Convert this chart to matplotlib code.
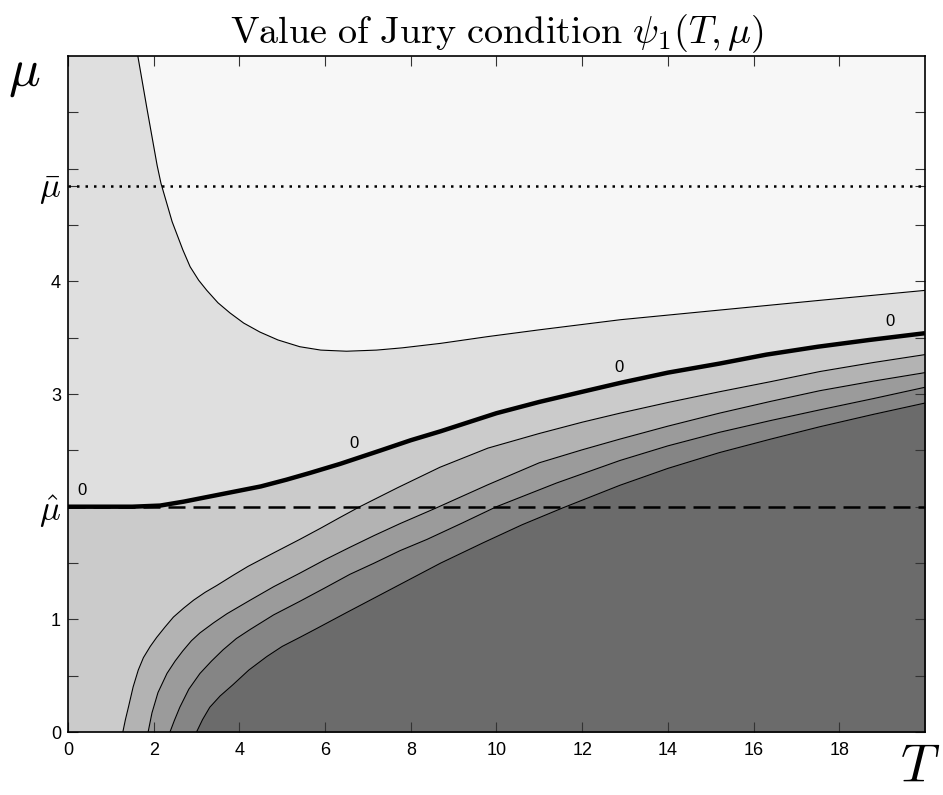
import numpy as np
import matplotlib
matplotlib.use("Agg")
import matplotlib.pyplot as plt

plt.rcParams.update({'font.family': 'Liberation Sans', 'mathtext.fontset': 'cm', 'font.size': 13})

# level curves of psi_1(T, mu)
upper_T = [1.63, 1.84, 2.08, 2.17, 2.43, 2.68, 2.85, 3.05, 3.24, 3.5, 3.78, 4.1, 4.48, 4.9, 5.41, 5.9,
           6.5, 7.2, 7.8, 8.7, 9.8, 11.0, 12.9, 15.2, 17.5, 20.0]
upper_mu = [6.0, 5.54, 5.03, 4.87, 4.53, 4.28, 4.13, 4.01, 3.92, 3.81, 3.72, 3.63, 3.55, 3.48, 3.42, 3.39,
            3.38, 3.39, 3.41, 3.45, 3.51, 3.57, 3.66, 3.745, 3.83, 3.92]

zero_T = [0.0, 1.0, 1.5, 2.15, 2.7, 3.3, 3.9, 4.5, 5.1, 5.65, 6.35, 7.3, 8.0, 8.7, 9.35, 10.0, 11.0, 12.0,
          12.9, 14.0, 15.2, 16.3, 17.5, 18.7, 20.0]
zero_mu = [2.0, 2.0, 2.0, 2.01, 2.045, 2.09, 2.135, 2.18, 2.24, 2.30, 2.38, 2.50, 2.59, 2.67, 2.75, 2.83, 2.93, 3.02,
           3.10, 3.19, 3.27, 3.35, 3.42, 3.48, 3.54]

l1_T = [1.28, 1.34, 1.41, 1.52, 1.64, 1.76, 1.92, 2.07, 2.26, 2.46, 2.7, 2.93, 3.2, 3.47, 3.85, 4.2, 4.8,
        5.41, 5.9, 6.35, 6.81, 7.7, 8.68, 9.8, 11.0, 12.0, 12.88, 14.0, 15.2, 16.4, 17.55, 18.8, 20.0]
l1_mu = [0.0, 0.11, 0.22, 0.40, 0.55, 0.66, 0.76, 0.84, 0.93, 1.02, 1.10, 1.17, 1.24, 1.30, 1.39, 1.47, 1.59,
         1.71, 1.81, 1.905, 2.0, 2.17, 2.35, 2.52, 2.65, 2.75, 2.83, 2.925, 3.02, 3.11, 3.20, 3.28, 3.35]

l2_T = [1.87, 1.96, 2.1, 2.31, 2.5, 2.68, 2.88, 3.08, 3.4, 3.71, 4.25, 4.8, 5.41, 6.0, 6.58, 7.15, 7.75,
        8.6, 9.8, 11.0, 12.0, 12.88, 14.0, 15.2, 16.4, 17.55, 18.8, 20.0]
l2_mu = [0.0, 0.17, 0.35, 0.52, 0.63, 0.72, 0.81, 0.88, 0.97, 1.05, 1.17, 1.29, 1.41, 1.53, 1.64, 1.745, 1.85,
         1.99, 2.195, 2.39, 2.505, 2.60, 2.715, 2.83, 2.935, 3.03, 3.115, 3.19]

l3_T = [2.38, 2.48, 2.61, 2.82, 3.08, 3.35, 3.62, 3.93, 4.25, 4.8, 5.41, 6.0, 6.58, 7.15, 7.75, 8.38, 9.2,
        10.0, 11.4, 12.88, 14.0, 15.2, 16.4, 17.55, 18.8, 20.0]
l3_mu = [0.0, 0.1, 0.22, 0.38, 0.52, 0.63, 0.73, 0.83, 0.91, 1.04, 1.16, 1.28, 1.40, 1.50, 1.61, 1.71, 1.855,
         2.0, 2.21, 2.41, 2.54, 2.66, 2.765, 2.86, 2.96, 3.06]

l4_T = [3.0, 3.14, 3.31, 3.55, 3.85, 4.22, 4.64, 5.0, 5.41, 5.81, 6.5, 7.1, 7.75, 8.7, 9.69, 10.6, 11.55,
        12.88, 14.0, 15.2, 16.4, 17.55, 18.8, 20.0]
l4_mu = [0.0, 0.11, 0.22, 0.32, 0.42, 0.55, 0.67, 0.76, 0.84, 0.92, 1.06, 1.18, 1.31, 1.50, 1.68, 1.84, 1.99,
         2.19, 2.34, 2.48, 2.60, 2.71, 2.82, 2.92]

mu_hat = 2.0
mu_bar = 4.85
label_T = [0.33, 6.67, 12.86, 19.18]   # where the "0" labels sit

xticks = list(range(0, 20, 2))
yticks = [0, 0.5, 1, 1.5, 2, 2.5, 3, 3.5, 4, 4.5, mu_bar, 5, 5.5]
ylabels = ['0', '', '1', '', r'$\hat{\mu}$', '', '3', '', '4', '', r'$\bar{\mu}$', '', '']

fig = plt.figure(figsize=(9.43, 7.95), dpi=100)
ax = fig.add_axes([0.0721, 0.0792, 0.9088, 0.8503])
ax.set_facecolor('#dfdfdf')

ax.fill_between(upper_T, upper_mu, 6, color='#f7f7f7', lw=0)
ax.fill_between(zero_T, 0, zero_mu, color='#cbcbcb', lw=0)
ax.fill_between(l1_T, 0, l1_mu, color='#b3b3b3', lw=0)
ax.fill_between(l2_T, 0, l2_mu, color='#9b9b9b', lw=0)
ax.fill_between(l3_T, 0, l3_mu, color='#858585', lw=0)
ax.fill_between(l4_T, 0, l4_mu, color='#6b6b6b', lw=0)

for tt, mm in [(upper_T, upper_mu), (l1_T, l1_mu), (l2_T, l2_mu), (l3_T, l3_mu), (l4_T, l4_mu)]:
    ax.plot(tt, mm, color='black', lw=0.8)

ax.axhline(mu_hat, color='black', lw=1.8, dashes=(6.8, 3.2), zorder=3)
ax.axhline(mu_bar, color='black', lw=1.8, dashes=(1.0, 2.4), zorder=3)
ax.plot(zero_T, zero_mu, color='black', lw=3.2, solid_capstyle='butt', zorder=4)

for t in label_T:
    ax.text(t, np.interp(t, zero_T, zero_mu) + 0.14, '0', fontsize=12, ha='center', va='center', zorder=5)

ax.set_xlim(0, 20)
ax.set_ylim(0, 6)
ax.set_xticks(xticks)
ax.set_yticks(yticks)
ax.set_yticklabels(ylabels)
ax.tick_params(direction='in', length=7, width=0.8, color='#333333', top=True, right=True, labelsize=13)
ax.tick_params(axis='x', pad=7)
ax.tick_params(axis='y', pad=5)
for lab in ax.get_yticklabels():
    if '$' in lab.get_text():
        lab.set_fontsize(25)
for s in ax.spines.values():
    s.set_linewidth(1.2)

ax.set_title(r'$\mathrm{Value\ of\ Jury\ condition}\ \psi_1(T,\mu)$', fontsize=27.5, pad=9)
fig.text(8 / 943, 1 - 86 / 795, r'$\mu$', fontsize=38, ha='left', va='baseline')
fig.text(900 / 943, 2 / 795, r'$T$', fontsize=39, ha='left', va='bottom')

fig.savefig('out.png', dpi=100)
